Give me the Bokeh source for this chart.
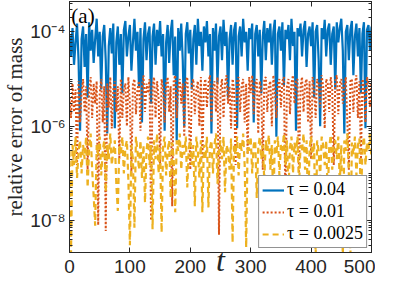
import numpy as np
from bokeh.plotting import figure
from bokeh.models import (Range1d, FixedTicker, LogAxis, LinearAxis, Legend,
                          LegendItem, Label, CustomJSTickFormatter, ColumnDataSource)
from bokeh.embed import file_html
from bokeh.resources import INLINE

# time grid (t from 0 to 500, step 2.5)
t = list(np.linspace(0, 500, 201))

# relative error of mass, tau = 0.04
err_004 = [
    9e-5, 3e-5, 1.2e-4, 2e-5, 6e-5, 1.5e-4, 2.5e-5, 8e-7, 7e-5, 1.3e-4,
    1.8e-5, 9e-5, 4e-6, 1.6e-4, 4e-5, 1.1e-4, 2.2e-5, 7e-5, 1.9e-4, 3e-5,
    1e-4, 6e-6, 8e-5, 1.4e-4, 2.5e-5, 7e-7, 5e-5, 1.2e-4, 3.5e-5, 1.5e-4,
    9e-7, 6e-5, 1.3e-4, 2e-5, 9e-5, 5e-6, 1.1e-4, 1.7e-4, 3e-5, 8e-5,
    1.4e-4, 1.5e-5, 6e-5, 1.9e-4, 4e-5, 1e-4, 7e-6, 1.2e-4, 1.2e-6, 7e-5,
    1.6e-4, 2.5e-5, 9e-5, 1.3e-4, 3e-6, 8e-5, 1.5e-4, 2e-5, 1.1e-4, 5e-5,
    1.7e-4, 3e-5, 9e-5, 8e-7, 6e-5, 1.4e-4, 2.2e-5, 1e-4, 1.8e-4, 1.2e-5,
    8e-5, 5e-7, 1.2e-4, 4e-5, 1.5e-4, 2.5e-5, 1e-6, 9e-5, 1.6e-4, 3.5e-5,
    1.1e-4, 6e-6, 7e-5, 1.4e-4, 2e-5, 1.9e-4, 5e-5, 1e-4, 1.5e-5, 1.3e-4,
    6e-5, 1.7e-4, 3e-5, 9e-5, 7e-7, 1.2e-4, 4e-5, 1.5e-4, 8e-6, 8e-5,
    1.3e-4, 2.5e-5, 1.8e-4, 5e-5, 1e-4, 4e-6, 7e-5, 1.4e-4, 2e-5, 1.1e-4,
    1.6e-4, 9e-7, 8e-5, 1.3e-4, 3e-5, 1.9e-4, 6e-5, 1e-4, 1.5e-5, 1.2e-4,
    7e-5, 1.5e-4, 1.2e-6, 9e-5, 1.4e-4, 3e-5, 1.1e-4, 5e-6, 8e-5, 1.7e-4,
    2.5e-5, 1.2e-4, 6e-5, 1.5e-4, 2e-5, 1e-4, 1.8e-4, 6e-7, 9e-5, 1.3e-4,
    4e-5, 1.6e-4, 7e-6, 1.1e-4, 7e-5, 1.4e-4, 2.5e-5, 1.9e-4, 5e-5, 1e-4,
    8e-7, 1.2e-4, 8e-5, 1.5e-4, 3e-5, 1.1e-4, 1.7e-4, 1.8e-5, 9e-5, 1.3e-4,
    5e-5, 1.6e-4, 4e-6, 1e-4, 1.4e-4, 2.5e-5, 1e-6, 1.2e-4, 7e-5, 1.8e-4,
    3e-5, 1.1e-4, 1.5e-4, 2e-5, 9e-5, 1.3e-4, 6e-6, 1.6e-4, 6e-5, 1.2e-4,
    1.9e-4, 4e-5, 7e-7, 1e-4, 1.4e-4, 2.5e-5, 1.1e-4, 1.7e-4, 1.2e-5, 8e-5,
    1.5e-4, 3e-5, 1.2e-4, 5e-6, 9e-5, 1.6e-4, 9e-7, 1.1e-4, 1.4e-4, 4e-5,
    1.3e-4,
]

# relative error of mass, tau = 0.01
err_001 = [
    4e-6, 1.5e-6, 8e-6, 2e-6, 6e-6, 1.5e-7, 9e-6, 1.2e-6, 5e-6, 1e-5,
    2e-6, 7e-6, 1.2e-7, 6e-6, 1.1e-5, 1.5e-6, 8e-6, 3e-6, 9e-6, 8e-9,
    5e-6, 1e-5, 1.2e-6, 7e-6, 6e-9, 8e-6, 2.5e-6, 1.1e-5, 9e-7, 6e-6,
    9e-6, 2e-6, 7e-6, 2e-7, 1e-5, 1.5e-6, 6e-6, 8e-6, 1e-6, 1.1e-5,
    3e-6, 1e-7, 8e-6, 1e-5, 1.8e-6, 6e-6, 9e-6, 8e-7, 7e-6, 1.2e-5,
    2e-6, 8e-6, 5e-6, 1e-5, 1e-8, 7e-6, 1.1e-5, 1.5e-6, 9e-6, 4e-6,
    1.5e-7, 1e-5, 6e-6, 1.2e-6, 8e-6, 1.1e-5, 2e-6, 7e-6, 2e-8, 9e-6,
    1.2e-5, 1.5e-6, 7e-6, 1e-5, 3e-6, 8e-6, 6e-7, 9e-6, 1.1e-5, 2e-6,
    1.2e-7, 8e-6, 1e-5, 1.8e-6, 6e-6, 9e-6, 1e-6, 1.1e-5, 2e-7, 7e-6,
    1e-5, 2.5e-6, 8e-6, 1.2e-5, 1.2e-6, 7e-6, 9e-6, 2e-6, 1.1e-5, 5e-9,
    6e-6, 1e-5, 1.5e-6, 8e-6, 1.2e-5, 3e-6, 7e-6, 9e-7, 1e-5, 6e-6,
    1.5e-7, 9e-6, 1.1e-5, 2e-6, 7e-6, 1e-5, 1.2e-6, 8e-6, 2.5e-7, 1.1e-5,
    5e-6, 1.2e-5, 1.8e-6, 8e-6, 1e-5, 7e-7, 9e-6, 6e-6, 1.2e-7, 1e-5,
    1.1e-5, 2e-6, 7e-6, 9e-6, 1e-6, 1.2e-5, 6e-6, 1.5e-6, 8e-6, 1e-5,
    2.5e-6, 9e-6, 1.1e-5, 1.5e-8, 7e-6, 1e-5, 1.8e-6, 8e-6, 1.2e-5, 3e-6,
    9e-6, 1e-5, 1e-7, 7e-6, 1.1e-5, 2e-6, 8e-6, 1e-5, 1.2e-6, 9e-6,
    2e-7, 1.1e-5, 6e-6, 1.5e-6, 1e-5, 8e-6, 2.5e-6, 1.2e-5, 7e-6, 9e-7,
    1e-5, 8e-6, 2e-6, 1.1e-5, 6e-6, 1.5e-7, 9e-6, 1.2e-5, 1.8e-6, 8e-6,
    1e-5, 3e-6, 7e-6, 1.1e-5, 1.2e-6, 1.2e-7, 9e-6, 1e-5, 2e-6, 8e-6,
    1.2e-5, 1.5e-6, 9e-6, 2e-7, 1e-5, 7e-6, 1.2e-6, 1.1e-5, 8e-6, 2.5e-6,
    9e-6,
]

# relative error of mass, tau = 0.0025
err_00025 = [
    3e-7, 2e-9, 4e-7, 1.5e-7, 6e-7, 8e-8, 3e-7, 5e-7, 1e-7, 4e-7,
    2e-7, 6e-7, 5e-8, 3.5e-7, 7e-7, 1.2e-7, 3.4e-8, 7.8e-9, 4e-7, 2.5e-7,
    6e-7, 9e-8, 3e-7, 5e-7, 4e-8, 4e-7, 2e-7, 7e-7, 1.5e-7, 3e-7,
    5e-7, 6e-8, 1.6e-8, 4e-7, 2.5e-7, 6e-7, 1e-7, 3.5e-7, 5e-7, 7e-8,
    3e-9, 4e-7, 2e-7, 7e-9, 6e-7, 3e-7, 1.2e-7, 5e-7, 8e-8, 4e-7,
    2.4e-8, 3e-7, 6e-7, 1.5e-7, 4e-7, 6.5e-9, 5e-7, 2e-7, 7e-7, 1e-7,
    3.5e-7, 5.6e-9, 4e-7, 6e-7, 9e-8, 3e-7, 5e-7, 3e-8, 4.5e-7, 2e-7,
    1.5e-8, 5e-7, 3e-7, 7e-7, 1.2e-7, 4e-7, 2.5e-7, 6e-7, 5e-8, 3.5e-7,
    5e-7, 1.5e-7, 4e-7, 2e-8, 6e-7, 3e-7, 8e-8, 5e-7, 1.5e-8, 4e-7,
    2e-7, 6e-7, 1.9e-8, 3.5e-7, 5e-7, 1e-7, 4e-7, 7e-7, 6e-8, 3e-7,
    5e-7, 2e-7, 6e-7, 4e-8, 4e-7, 3e-7, 1.2e-7, 5.5e-7, 3.4e-9, 4e-7,
    2.5e-7, 6e-7, 9e-8, 4.5e-7, 3e-7, 7e-7, 1.5e-7, 2.7e-9, 5e-7, 3e-7,
    6e-7, 1e-7, 4e-7, 5e-7, 3e-8, 3.5e-7, 6e-7, 2e-7, 4e-7, 7e-8,
    5e-7, 3e-7, 6.5e-7, 1.2e-7, 4e-7, 2e-8, 5e-7, 2.5e-7, 6e-7, 9e-8,
    4e-7, 3e-7, 7e-7, 1.5e-7, 5e-7, 4e-8, 3.5e-7, 6e-7, 1e-7, 4.5e-7,
    2.5e-7, 6e-7, 5e-8, 4e-7, 3e-7, 7e-7, 1.2e-7, 5e-7, 1.5e-8, 3.5e-7,
    6e-7, 2e-7, 4.5e-7, 1.5e-9, 5e-7, 3e-7, 8e-8, 6e-7, 4e-7, 1.5e-7,
    5e-7, 3e-8, 3.5e-7, 6.5e-7, 1.2e-7, 4e-7, 5e-7, 2e-7, 6e-7, 6e-8,
    4e-7, 1.5e-9, 5e-7, 3e-7, 7e-7, 1e-7, 1.5e-9, 4.5e-7, 2.5e-7, 6e-7,
    9e-8, 4e-7, 5.5e-7, 2e-8, 3.5e-7, 6e-7, 1.5e-7, 4.5e-7, 3e-7, 7e-7,
    2e-7,
]

labels = ["\u03c4 = 0.04", "\u03c4 = 0.01", "\u03c4 = 0.0025"]
x_ticks = [0, 100, 200, 300, 400, 500]
y_ticks = [1e-8, 1e-6, 1e-4]
x_min, x_max = 0, 500
y_min, y_max = 2.1e-9, 4.4e-4

AX = "#262626"
BLUE, RED, YEL = "#0072BD", "#D95319", "#EDB120"

src = ColumnDataSource(dict(t=t, a=err_004, b=err_001, c=err_00025))

p = figure(width=375, height=280, y_axis_type="log",
           x_range=Range1d(x_min, x_max), y_range=Range1d(y_min, y_max),
           output_backend="svg", toolbar_location=None,
           min_border_left=61, min_border_right=4,
           min_border_top=1, min_border_bottom=26)
p.grid.visible = False
p.outline_line_color = AX
p.outline_line_width = 1
p.background_fill_color = "white"
p.border_fill_color = "white"

r1 = p.line("t", "a", source=src, line_color=BLUE, line_width=2.2)
r2 = p.line("t", "b", source=src, line_color=RED, line_width=2, line_dash="2 2")
r3 = p.line("t", "c", source=src, line_color=YEL, line_width=2.2, line_dash="6 4")

minor = [k * 10.0 ** n for n in range(-10, -2) for k in range(1, 10)
         if not (k == 1 and n in (-8, -6, -4))]
yt = FixedTicker(ticks=y_ticks, minor_ticks=minor)
xt = FixedTicker(ticks=x_ticks, minor_ticks=[])

fmt = CustomJSTickFormatter(code="""
const sup = {"-": "\\u207b", "0": "\\u2070", "1": "\\u00b9", "2": "\\u00b2",
             "3": "\\u00b3", "4": "\\u2074", "5": "\\u2075", "6": "\\u2076",
             "7": "\\u2077", "8": "\\u2078", "9": "\\u2079"};
const e = Math.round(Math.log10(tick));
return "10" + String(e).split("").map(c => sup[c]).join("");
""")
blank = CustomJSTickFormatter(code="return '';")

def style_axis(ax, labels_on=True):
    ax.axis_line_color = AX
    ax.major_tick_line_color = AX
    ax.minor_tick_line_color = AX
    ax.major_tick_in = 5
    ax.major_tick_out = 0
    ax.minor_tick_in = 3
    ax.minor_tick_out = 0
    ax.major_label_text_color = AX
    ax.major_label_text_font = "Liberation Sans"
    ax.major_label_text_font_size = "19px"
    if not labels_on:
        ax.formatter = blank
        ax.major_label_standoff = 0

xa = p.xaxis[0]
xa.ticker = xt
style_axis(xa)
xa.major_label_standoff = 7
xa.axis_label = "t"
xa.axis_label_text_font = "Liberation Serif"
xa.axis_label_text_font_style = "italic"
xa.axis_label_text_font_size = "32px"
xa.axis_label_text_line_height = 0.55
xa.axis_label_text_color = AX
xa.axis_label_standoff = -34

ya = p.yaxis[0]
ya.ticker = yt
ya.formatter = fmt
style_axis(ya)
ya.major_label_standoff = 4
ya.axis_label = "relative error of mass"
ya.axis_label_text_font = "Liberation Serif"
ya.axis_label_text_font_style = "normal"
ya.axis_label_text_font_size = "21px"
ya.axis_label_text_color = AX
ya.axis_label_standoff = 0

top = LinearAxis(ticker=xt)
style_axis(top, labels_on=False)
p.add_layout(top, "above")
right = LogAxis(ticker=yt)
style_axis(right, labels_on=False)
p.add_layout(right, "right")

legend = Legend(items=[LegendItem(label=labels[0], renderers=[r1]),
                       LegendItem(label=labels[1], renderers=[r2]),
                       LegendItem(label=labels[2], renderers=[r3])],
                location="bottom_right")
legend.label_text_font = "Liberation Serif"
legend.label_text_font_size = "18px"
legend.label_text_color = "black"
legend.border_line_color = AX
legend.border_line_width = 1
legend.background_fill_color = "white"
legend.background_fill_alpha = 1
legend.padding = 3
legend.spacing = 1
legend.margin = 4
legend.glyph_width = 22
legend.glyph_height = 20
legend.label_height = 20
legend.label_standoff = 3
p.add_layout(legend)

p.add_layout(Label(x=3, y=y_max, text="(a)", text_baseline="top",
                   text_font="Liberation Serif", text_font_size="21px",
                   text_color="black", y_offset=-2))

open("out.html", "w", encoding="utf-8").write(file_html(p, INLINE))
